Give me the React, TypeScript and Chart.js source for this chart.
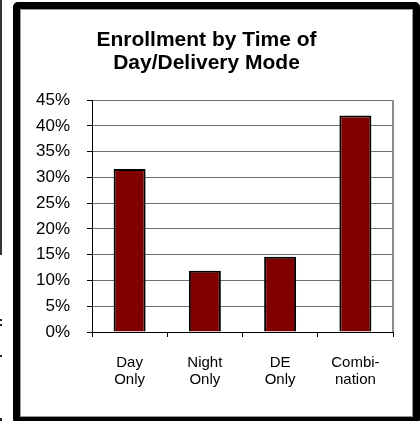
import React, { useEffect, useRef } from "react";
import { Chart, registerables } from "chart.js";

Chart.register(...registerables);

const titleLines = ["Enrollment by Time of", "Day/Delivery Mode"];
const categories = [["Day", "Only"], ["Night", "Only"], ["DE", "Only"], ["Combi-", "nation"]];
const enrollmentPct = [31.6, 11.9, 14.6, 42.0];
const yTickMax = 45;
const yTickStep = 5;

const FONT = "'Liberation Sans', Arial, Helvetica, sans-serif";

const rightBorder = {
  id: "rightBorder",
  beforeDatasetsDraw(chart: any) {
    const { ctx, chartArea } = chart;
    ctx.save();
    ctx.strokeStyle = "#8c8c8c";
    ctx.lineWidth = 2;
    ctx.beginPath();
    ctx.moveTo(chartArea.right, chartArea.top);
    ctx.lineTo(chartArea.right, chartArea.bottom);
    ctx.stroke();
    ctx.restore();
  },
};

export default function App() {
  const ref = useRef<HTMLCanvasElement>(null);
  useEffect(() => {
    if (!ref.current) return;
    const chart = new Chart(ref.current, {
      type: "bar",
      data: {
        labels: categories,
        datasets: [
          {
            data: enrollmentPct,
            backgroundColor: "#800000",
            borderColor: "#000000",
            borderWidth: 2,
            categoryPercentage: 1,
            barPercentage: 0.425,
          },
        ],
      },
      options: {
        responsive: false,
        animation: false,
        devicePixelRatio: 1,
        layout: { padding: { left: 20, right: 27, top: 28, bottom: 29 } },
        plugins: {
          legend: { display: false },
          tooltip: { enabled: false },
          title: {
            display: true,
            text: titleLines,
            color: "#000",
            font: { family: FONT, size: 21, weight: "bold", lineHeight: 1.12 },
            padding: { top: 0, bottom: 25 },
          },
        },
        scales: {
          x: {
            offset: true,
            grid: {
              display: true,
              offset: true,
              drawOnChartArea: false,
              tickLength: 5,
              tickColor: "#000",
            },
            border: { display: true, color: "#000", width: 1 },
            ticks: {
              color: "#000",
              padding: 17,
              maxRotation: 0,
              font: { family: FONT, size: 15, lineHeight: 1.13 },
            },
            afterFit: (s: any) => {
              s.height = 60;
            },
          },
          y: {
            min: 0,
            max: yTickMax,
            ticks: {
              stepSize: yTickStep,
              color: "#000",
              padding: 17,
              font: { family: FONT, size: 17 },
              callback: (v: any) => v + "%",
            },
            grid: {
              color: "#6e6e6e",
              lineWidth: 1,
              tickLength: 5,
              tickColor: "#000",
            },
            border: { display: true, color: "#000", width: 1 },
            afterFit: (s: any) => {
              s.width = 72;
            },
          },
        },
      },
      plugins: [rightBorder],
    });
    return () => chart.destroy();
  }, []);

  return (
    <div
      style={{
        position: "absolute",
        left: 0,
        top: 0,
        width: 420,
        height: 421,
        overflow: "hidden",
        background: "#fff",
      }}
    >
      <div style={{ position: "absolute", left: 0, top: 0, width: 2, height: 255, background: "#333" }} />
      <div style={{ position: "absolute", left: 0, top: 319, width: 2, height: 2, background: "#222" }} />
      <div style={{ position: "absolute", left: 0, top: 324, width: 2, height: 2, background: "#222" }} />
      <div style={{ position: "absolute", left: 0, top: 355, width: 2, height: 2, background: "#222" }} />
      <div style={{ position: "absolute", left: 0, top: 418, width: 2, height: 3, background: "#222" }} />
      <div
        style={{
          position: "absolute",
          left: 13,
          top: 2,
          width: 407,
          height: 422,
          boxSizing: "border-box",
          border: "7px solid #000",
          borderRadius: 5,
        }}
      >
        <div
          style={{
            position: "absolute",
            inset: 0,
            boxShadow: "inset 0 0 0 1px #999",
          }}
        />
      </div>
      <canvas
        ref={ref}
        width={420}
        height={421}
        style={{ position: "absolute", left: 0, top: 0, width: 420, height: 421 }}
      />
    </div>
  );
}
